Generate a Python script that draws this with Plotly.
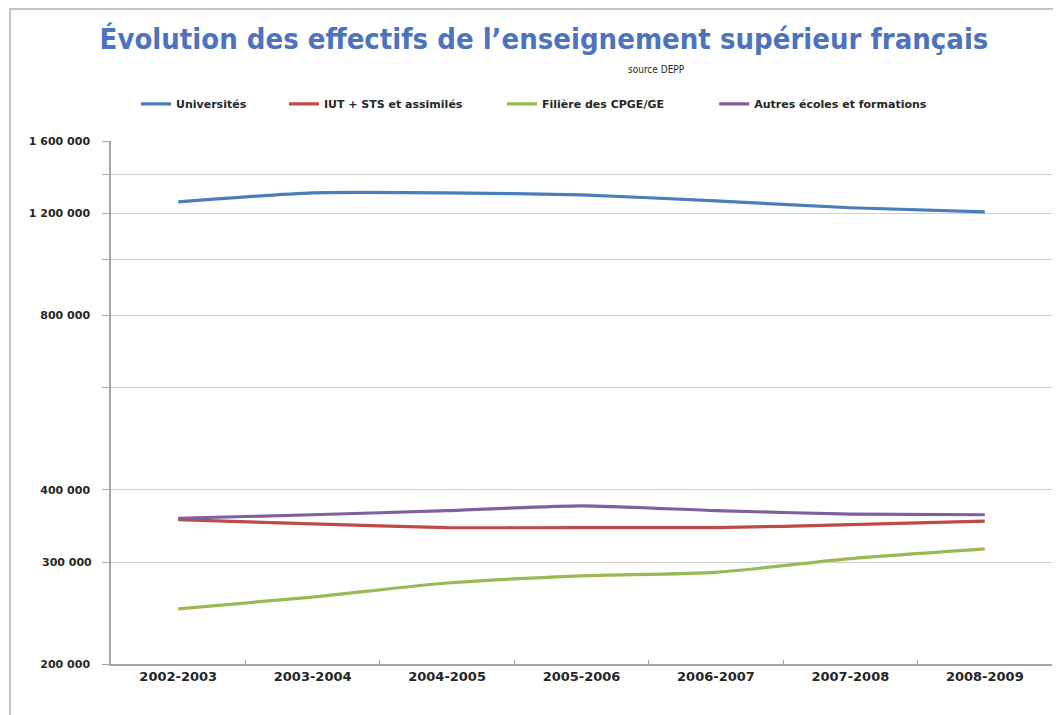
import plotly.graph_objects as go

years = ["2002-2003", "2003-2004", "2004-2005", "2005-2006", "2006-2007", "2007-2008", "2008-2009"]

universites = [1256000, 1302000, 1302000, 1291000, 1261000, 1227000, 1207000]
iut_sts = [355000, 349000, 344000, 344000, 344000, 348000, 353000]
cpge_ge = [249000, 261000, 276000, 284000, 288000, 304000, 316000]
autres = [357000, 362000, 368000, 375000, 368000, 363000, 362000]

series_names = ["Universités", "IUT + STS et assimilés", "Filière des CPGE/GE", "Autres écoles et formations"]
series_colors = ["#4a7ebb", "#be4b48", "#98b954", "#7d60a0"]

grid_vals = [200000, 300000, 400000, 600000, 800000, 1000000, 1200000, 1400000, 1600000]
grid_text = ["200 000", "", "400 000", "", "800 000", "", "1 200 000", "", "1 600 000"]

BOLD = dict(family="DejaVu Sans", weight="bold", color="#262626")

# one legend per series so each entry can sit where it does in the original
legend_ids = ["legend", "legend2", "legend3", "legend4"]
legend_x = [0.0266, 0.1838, 0.4155, 0.641]

fig = go.Figure()
for name, vals, col, lg in zip(series_names, [universites, iut_sts, cpge_ge, autres], series_colors, legend_ids):
    fig.add_trace(go.Scatter(
        x=years, y=vals, name=name, mode="lines", legend=lg,
        line=dict(color=col, width=3.2, shape="spline", smoothing=0.6),
    ))

# the page body has an 8px margin, so the figure is made 8px smaller
fig.update_layout(
    width=1053, height=707,
    paper_bgcolor="white", plot_bgcolor="white",
    margin=dict(l=103, r=9, t=133, b=51),
    font=dict(family="DejaVu Sans", color="#262626"),
    title=dict(
        text="Évolution des effectifs de l’enseignement supérieur français",
        x=0.509, xanchor="center", y=0.957, yanchor="middle",
        font=dict(family="DejaVu Sans Condensed", weight="bold", size=29, color="#4e73be"),
    ),
    showlegend=True,
)
for lg, lx in zip(legend_ids, legend_x):
    fig.update_layout({lg: dict(
        orientation="h", x=lx, xanchor="left", y=1.071, yanchor="middle",
        font=dict(size=11, **BOLD), bgcolor="rgba(0,0,0,0)",
    )})

fig.update_xaxes(
    range=[-0.5, 6.5], showgrid=False, showline=True, linecolor="#a6a6a6", linewidth=1.5,
    ticks="inside", ticklen=4, tickcolor="#a6a6a6", tickson="boundaries",
    tickfont=dict(size=13, **BOLD),
)
fig.update_yaxes(
    type="log", range=[5.30103, 6.20412],
    tickvals=grid_vals, ticktext=grid_text,
    showgrid=True, gridcolor="#d0d0d0", gridwidth=1,
    showline=True, linecolor="#a6a6a6", linewidth=1.5,
    ticks="outside", ticklen=7, tickcolor="#a6a6a6", ticklabelstandoff=10,
    tickfont=dict(size=11, **BOLD),
)

# 300 000 is labelled but has no gridline in the original
fig.add_annotation(x=0, xref="paper", xanchor="right", xshift=-17, y=5.4771, yref="y",
                   text="300 000", showarrow=False, font=dict(size=11, **BOLD))
fig.add_shape(type="line", xref="paper", yref="y", x0=0, x1=1, y0=300000, y1=300000,
              line=dict(color="white", width=2), layer="below")

fig.add_annotation(x=0.58, xref="paper", y=1.136, yref="paper", yanchor="middle", text="source DEPP",
                   showarrow=False, font=dict(size=10, family="DejaVu Sans Condensed", color="#262626"))

# outer frame of the chart
fig.add_shape(type="rect", xref="paper", yref="paper",
              x0=-0.1073, x1=1.03, y0=-0.12, y1=1.2524,
              line=dict(color="#c4c4c4", width=2))

fig.write_html("out.html")
